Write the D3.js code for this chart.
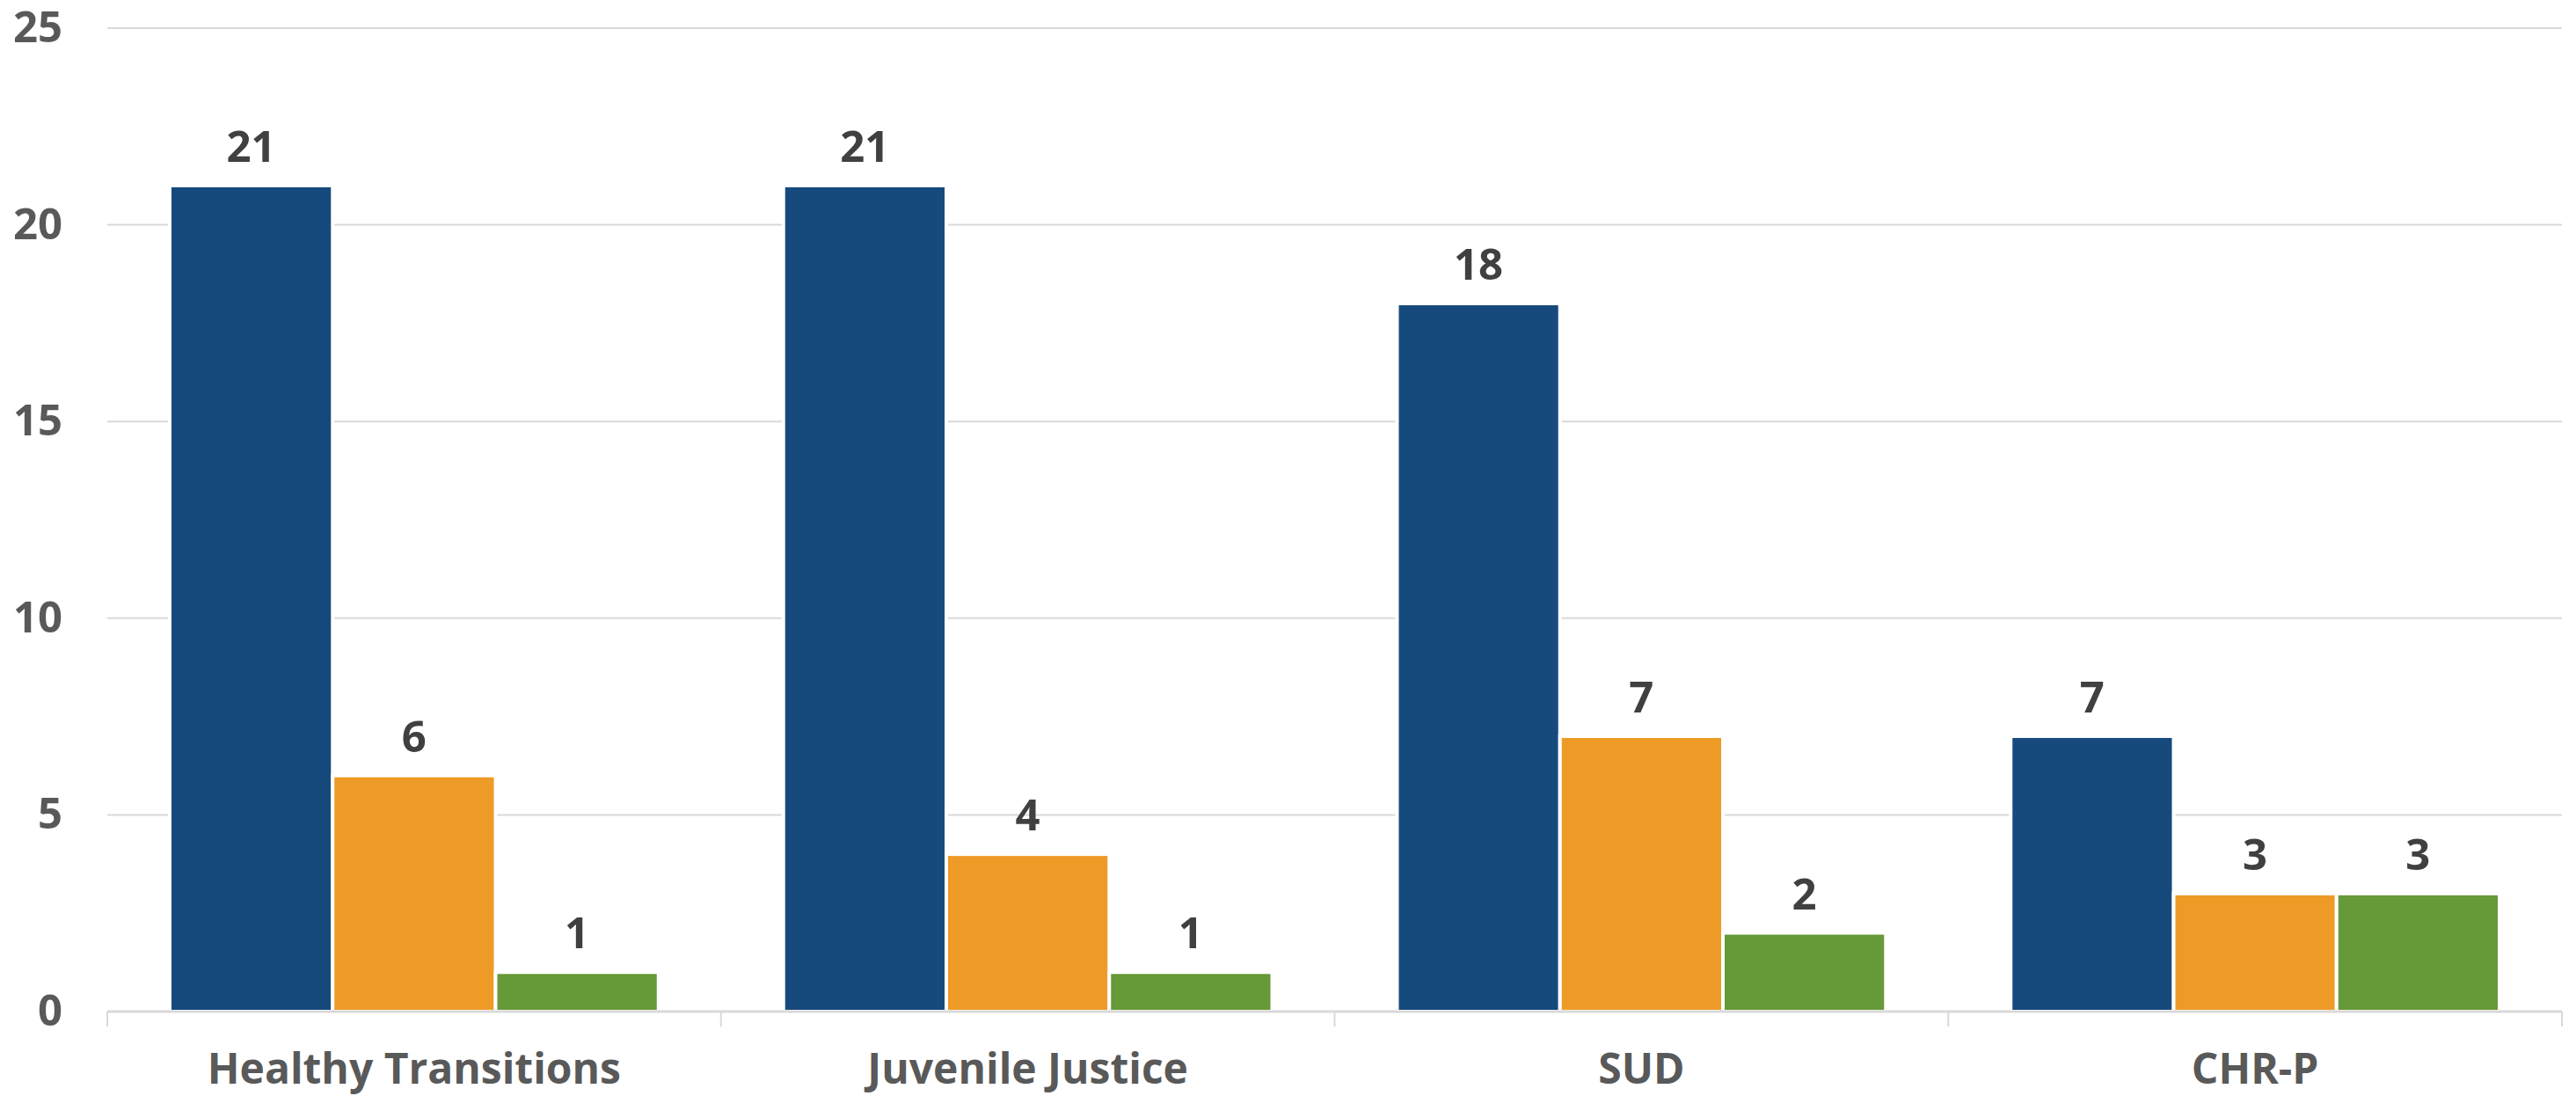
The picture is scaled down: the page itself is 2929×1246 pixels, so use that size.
<!DOCTYPE html>
<html>
<head>
<meta charset="utf-8">
<script src="https://cdn.jsdelivr.net/npm/d3@7"></script>
<style>
  html, body { margin: 0; padding: 0; background: #fff; }
  svg { display: block; font-family: 'Open Sans', sans-serif; }
</style>
</head>
<body>
<svg id="canvas"></svg>
<script>
const categories = ['Healthy Transitions', 'Juvenile Justice', 'SUD', 'CHR-P'];
const seriesA = [21, 21, 18, 7];
const seriesB = [6, 4, 7, 3];
const seriesC = [1, 1, 2, 3];
const yTicks = [0, 5, 10, 15, 20, 25];
const colors = ['#174a7c', '#ee9a26', '#669937'];

const width = 2929;
const height = 1246;
const margin = { top: 32, right: 16, bottom: 96, left: 122 };

const svg = d3.select('#canvas').attr('width', width).attr('height', height);

const x = d3.scaleBand()
  .domain(categories)
  .range([margin.left, width - margin.right]);

const x1 = d3.scaleBand()
  .domain([0, 1, 2])
  .range([71, x.bandwidth() - 71]);

const y = d3.scaleLinear()
  .domain([0, 25])
  .range([height - margin.bottom, margin.top]);

// gridlines
svg.append('g')
  .selectAll('line')
  .data(yTicks.filter(d => d > 0))
  .enter()
  .append('line')
  .attr('x1', margin.left)
  .attr('x2', width - margin.right)
  .attr('y1', d => y(d))
  .attr('y2', d => y(d))
  .attr('stroke', '#d9d9d9')
  .attr('stroke-width', 2);

// y axis labels
svg.append('g')
  .selectAll('text')
  .data(yTicks)
  .enter()
  .append('text')
  .attr('x', 71)
  .attr('y', d => y(d) + 16)
  .attr('text-anchor', 'end')
  .attr('fill', '#595959')
  .style('font-size', '49px')
  .style('font-weight', 700)
  .text(d => d);

const data = categories.map((c, i) => ({
  category: c,
  values: [seriesA[i], seriesB[i], seriesC[i]]
}));

const groups = svg.selectAll('.group')
  .data(data)
  .enter()
  .append('g')
  .attr('class', 'group')
  .attr('transform', d => `translate(${x(d.category)},0)`);

groups.selectAll('rect')
  .data(d => d.values.map((v, k) => ({ k, v })))
  .enter()
  .append('rect')
  .attr('x', d => x1(d.k))
  .attr('y', d => y(d.v))
  .attr('width', x1.bandwidth())
  .attr('height', d => y(0) - y(d.v))
  .attr('fill', d => colors[d.k])
  .attr('stroke', '#fff')
  .attr('stroke-width', 4);

groups.selectAll('.label')
  .data(d => d.values.map((v, k) => ({ k, v })))
  .enter()
  .append('text')
  .attr('class', 'label')
  .attr('x', d => x1(d.k) + x1.bandwidth() / 2)
  .attr('y', d => y(d.v) - 27)
  .attr('text-anchor', 'middle')
  .attr('fill', '#404040')
  .style('font-size', '49px')
  .style('font-weight', 700)
  .text(d => d.v);

// x axis
const xAxis = svg.append('g')
  .attr('transform', `translate(0,${y(0)})`)
  .call(d3.axisBottom(x).tickSize(0).tickFormat(''));
xAxis.select('.domain').remove();
xAxis.append('line')
  .attr('x1', margin.left)
  .attr('x2', width - margin.right)
  .attr('stroke', '#d9d9d9')
  .attr('stroke-width', 3);

const bounds = categories.map(c => x(c)).concat([x.range()[1]]);
xAxis.selectAll('.sep')
  .data(bounds)
  .enter()
  .append('line')
  .attr('class', 'sep')
  .attr('x1', d => d)
  .attr('x2', d => d)
  .attr('y1', 0)
  .attr('y2', 17)
  .attr('stroke', '#d9d9d9')
  .attr('stroke-width', 2);

svg.append('g')
  .selectAll('text')
  .data(categories)
  .enter()
  .append('text')
  .attr('x', d => x(d) + x.bandwidth() / 2)
  .attr('y', 1232)
  .attr('text-anchor', 'middle')
  .attr('fill', '#595959')
  .style('font-size', '48px')
  .style('font-weight', 700)
  .text(d => d);
</script>
</body>
</html>
